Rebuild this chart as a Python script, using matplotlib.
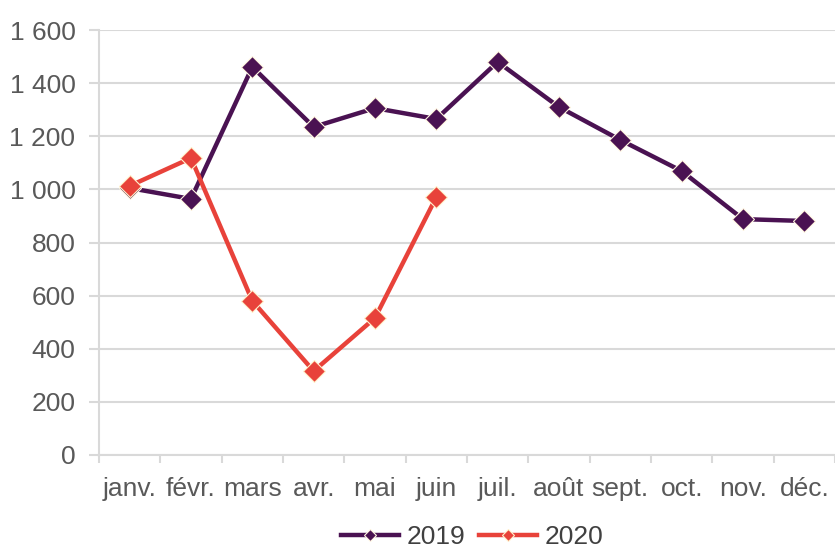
import matplotlib
matplotlib.use('Agg')
import matplotlib.pyplot as plt
from matplotlib.ticker import FuncFormatter, FixedLocator

months = ['janv.', 'févr.', 'mars', 'avr.', 'mai', 'juin',
          'juil.', 'août', 'sept.', 'oct.', 'nov.', 'déc.']
values_2019 = [1005, 964, 1461, 1235, 1306, 1265, 1480, 1310, 1186, 1069, 888, 881]
values_2020 = [1013, 1118, 580, 316, 516, 971]

plt.rcParams['font.family'] = ['Liberation Sans', 'DejaVu Sans']

fig = plt.figure(figsize=(8.35, 5.5), dpi=100)
ax = fig.add_axes([99 / 835, 1 - 455 / 550, 1 - 99 / 835, 425 / 550])

text_color = '#595959'
grid_color = '#d9d9d9'

ax.plot(range(len(values_2019)), values_2019, color='#4a1252', linewidth=3.2,
        marker='D', markersize=11, markeredgecolor='#fff6e0', markeredgewidth=0.8,
        label='2019', zorder=3)
ax.plot(range(len(values_2020)), values_2020, color='#e8423a', linewidth=3.2,
        marker='D', markersize=11, markeredgecolor='#fff2cc', markeredgewidth=0.8,
        label='2020', zorder=4)

ax.set_ylim(0, 1600)
ax.set_yticks(range(0, 1601, 200))
ax.yaxis.set_major_formatter(FuncFormatter(lambda v, p: f'{int(v):,}'.replace(',', ' ')))
ax.set_xlim(-0.5, len(months) - 0.5)
ax.set_xticks(range(len(months)))
ax.set_xticklabels(months)
ax.xaxis.set_minor_locator(FixedLocator([i - 0.5 for i in range(len(months) + 1)]))

ax.grid(axis='y', color=grid_color, linewidth=1.5, zorder=0)
ax.set_axisbelow(True)
for side in ['top', 'right']:
    ax.spines[side].set_visible(False)
for side in ['left', 'bottom']:
    ax.spines[side].set_color(grid_color)
    ax.spines[side].set_linewidth(1.5)

ax.tick_params(axis='y', length=7, width=1.5, color=grid_color, pad=10,
               labelsize=19, labelcolor=text_color)
ax.tick_params(axis='x', which='major', length=0, pad=16,
               labelsize=19, labelcolor=text_color)
ax.tick_params(axis='x', which='minor', length=6, width=1.5, color=grid_color)

handles, labels = ax.get_legend_handles_labels()
leg = fig.legend(handles, labels, loc='center', bbox_to_anchor=(472 / 835, 1 - 537 / 550),
                 ncol=2, frameon=False, fontsize=19, handlelength=2.2,
                 handletextpad=0.3, columnspacing=0.5, markerscale=0.6,
                 borderpad=0.0)
for t in leg.get_texts():
    t.set_color('#404040')

fig.savefig('out.png', dpi=100)
